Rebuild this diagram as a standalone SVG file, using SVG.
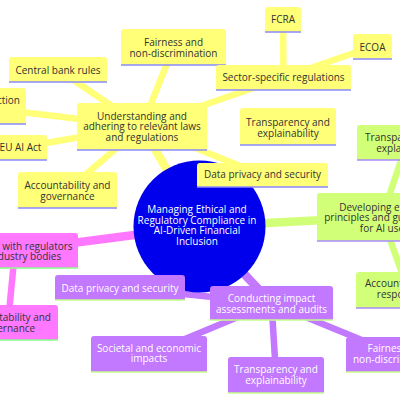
<svg xmlns="http://www.w3.org/2000/svg" width="400" height="400" viewBox="0 0 400 400">
<style>
text{font-family:"Open Sans","Noto Sans","DejaVu Sans",sans-serif;font-size:10px;text-anchor:middle;fill:#333}
.e0{stroke-width:8.5;stroke-linecap:round;fill:none}
.e1{stroke-width:6.5;stroke-linecap:round;fill:none}
.ey{stroke:#ffff78}.eg{stroke:#d2ff78}.ep{stroke:#ff78ff}.eu{stroke:#c278ff}
.nl{stroke-width:1.6}
.yel path{fill:#ffff78}.yel line{stroke:#8a8aff}
.grn path{fill:#d2ff78}.grn line{stroke:#a88aff}
.pnk path{fill:#ff78ff}.pnk line{stroke:#8aff8a}
.pur path{fill:#c278ff}.pur line{stroke:#c4ff8a}.pur text{fill:#fff}
.root circle{fill:#0000ec}.root text{fill:#fff}
</style>
<g id="connectors">
<line class="e0 ey" x1="199.5" y1="226.5" x2="142" y2="126.5"/>
<line class="e0 eg" x1="199.5" y1="226.5" x2="382" y2="217"/>
<line class="e0 ep" x1="199.5" y1="226.5" x2="15" y2="250.5"/>
<line class="e0 eu" x1="199.5" y1="226.5" x2="271.5" y2="303"/>
<line class="e1 ey" x1="142" y1="126.5" x2="58" y2="69.5"/>
<line class="e1 ey" x1="142" y1="126.5" x2="-30" y2="106"/>
<line class="e1 ey" x1="142" y1="126.5" x2="20" y2="147.5"/>
<line class="e1 ey" x1="142" y1="126.5" x2="67.5" y2="190"/>
<line class="e1 ey" x1="142" y1="126.5" x2="173.5" y2="47"/>
<line class="e1 ey" x1="142" y1="126.5" x2="283.5" y2="77.5"/>
<line class="e1 ey" x1="142" y1="126.5" x2="262.5" y2="175"/>
<line class="e1 ey" x1="283.5" y1="77.5" x2="283" y2="19.5"/>
<line class="e1 ey" x1="283.5" y1="77.5" x2="372.5" y2="46.5"/>
<line class="e1 eg" x1="382" y1="217" x2="407" y2="142.5"/>
<line class="e1 eg" x1="382" y1="217" x2="408" y2="290"/>
<line class="e1 ep" x1="15" y1="250.5" x2="8" y2="322.5"/>
<line class="e1 eu" x1="271.5" y1="303" x2="120" y2="287.5"/>
<line class="e1 eu" x1="271.5" y1="303" x2="149" y2="354"/>
<line class="e1 eu" x1="271.5" y1="303" x2="276" y2="375"/>
<line class="e1 eu" x1="271.5" y1="303" x2="397" y2="354.5"/>
</g>
<g id="root" class="root">
<circle cx="199.5" cy="226.5" r="66"/>
<text x="197" y="213">Managing Ethical and</text>
<text x="197" y="223.7">Regulatory Compliance in</text>
<text x="197" y="234.4">AI-Driven Financial</text>
<text x="197" y="245.1">Inclusion</text>
</g>
<g id="n-understanding" class="yel"><path d="M77,150 V106 Q77,103 80,103 H204 Q207,103 207,106 V150 Z"/><line class="nl" x1="77" y1="150" x2="207" y2="150"/>
<text x="142" y="119.7">Understanding and</text><text x="142" y="130.4">adhering to relevant laws</text><text x="142" y="141.1">and regulations</text></g>
<g id="n-centralbank" class="yel"><path d="M9,82 V60 Q9,57 12,57 H104 Q107,57 107,60 V82 Z"/><line class="nl" x1="9" y1="82" x2="107" y2="82"/><text x="58" y="73.5">Central bank rules</text></g>
<g id="n-consumer" class="yel"><path d="M-85,124 V91 Q-85,88 -82,88 H23 Q26,88 26,91 V124 Z"/><line class="nl" x1="-85" y1="124" x2="26" y2="124"/><text x="20" y="103.7" style="text-anchor:end">Consumer protection</text></g>
<g id="n-euai" class="yel"><path d="M-8,160 V138 Q-8,135 -5,135 H44 Q47,135 47,138 V160 Z"/><line class="nl" x1="-8" y1="160" x2="47" y2="160"/><text x="20.5" y="150.7">EU AI Act</text></g>
<g id="n-acc-y" class="yel"><path d="M18,208 V175 Q18,172 21,172 H114 Q117,172 117,175 V208 Z"/><line class="nl" x1="18" y1="208" x2="117" y2="208"/><text x="67.5" y="188.7">Accountability and</text><text x="67.5" y="199.7">governance</text></g>
<g id="n-fair-y" class="yel"><path d="M121,65 V32 Q121,29 124,29 H223 Q226,29 226,32 V65 Z"/><line class="nl" x1="121" y1="65" x2="226" y2="65"/><text x="173.5" y="45.7">Fairness and</text><text x="173.5" y="56.7">non-discrimination</text></g>
<g id="n-fcra" class="yel"><path d="M265,32 V10 Q265,7 268,7 H298 Q301,7 301,10 V32 Z"/><line class="nl" x1="265" y1="32" x2="301" y2="32"/><text x="283" y="23.2">FCRA</text></g>
<g id="n-ecoa" class="yel"><path d="M353,59 V37 Q353,34 356,34 H389 Q392,34 392,37 V59 Z"/><line class="nl" x1="353" y1="59" x2="392" y2="59"/><text x="372.5" y="50.5">ECOA</text></g>
<g id="n-sector" class="yel"><path d="M216,90 V68 Q216,65 219,65 H348 Q351,65 351,68 V90 Z"/><line class="nl" x1="216" y1="90" x2="351" y2="90"/><text x="283.5" y="81.2">Sector-specific regulations</text></g>
<g id="n-trans-y" class="yel"><path d="M240,145 V111 Q240,108 243,108 H333 Q336,108 336,111 V145 Z"/><line class="nl" x1="240" y1="145" x2="336" y2="145"/><text x="288" y="125.7">Transparency and</text><text x="288" y="136.7">explainability</text></g>
<g id="n-priv-y" class="yel"><path d="M197,187 V166 Q197,163 200,163 H325 Q328,163 328,166 V187 Z"/><line class="nl" x1="197" y1="187" x2="328" y2="187"/><text x="262.5" y="177.7">Data privacy and security</text></g>
<g id="n-developing" class="grn"><path d="M317,241 V196 Q317,193 320,193 H444 Q447,193 447,196 V241 Z"/><line class="nl" x1="317" y1="241" x2="447" y2="241"/><text x="382" y="210.6">Developing ethical</text><text x="382" y="221.1">principles and guidelines</text><text x="382" y="231.6">for AI use</text></g>
<g id="n-trans-g" class="grn"><path d="M357,160 V128 Q357,125 360,125 H454 Q457,125 457,128 V160 Z"/><line class="nl" x1="357" y1="160" x2="457" y2="160"/><text x="407" y="140.7">Transparency and</text><text x="407" y="151.7">explainability</text></g>
<g id="n-acc-g" class="grn"><path d="M356,308 V275 Q356,272 359,272 H457 Q460,272 460,275 V308 Z"/><line class="nl" x1="356" y1="308" x2="460" y2="308"/><text x="408" y="286.7">Accountability and</text><text x="408" y="297.7">responsibility</text></g>
<g id="n-engaging" class="pnk"><path d="M-48,268 V236 Q-48,233 -45,233 H75 Q78,233 78,236 V268 Z"/><line class="nl" x1="-48" y1="268" x2="78" y2="268"/><text x="15" y="249.7">Engaging with regulators</text><text x="15" y="260.2">and industry bodies</text></g>
<g id="n-acc-p" class="pnk"><path d="M-42,340 V308 Q-42,305 -39,305 H55 Q58,305 58,308 V340 Z"/><line class="nl" x1="-42" y1="340" x2="58" y2="340"/><text x="8" y="320.7">Accountability and</text><text x="8" y="331.7">governance</text></g>
<g id="n-conducting" class="pur"><path d="M210,320 V289 Q210,286 213,286 H330 Q333,286 333,289 V320 Z"/><line class="nl" x1="210" y1="320" x2="333" y2="320"/><text x="271.5" y="301.7">Conducting impact</text><text x="271.5" y="312.7">assessments and audits</text></g>
<g id="n-priv-u" class="pur"><path d="M55,300 V278 Q55,275 58,275 H182 Q185,275 185,278 V300 Z"/><line class="nl" x1="55" y1="300" x2="185" y2="300"/><text x="120" y="291.5">Data privacy and security</text></g>
<g id="n-societal" class="pur"><path d="M91,372 V339 Q91,336 94,336 H204 Q207,336 207,339 V372 Z"/><line class="nl" x1="91" y1="372" x2="207" y2="372"/><text x="149" y="351.7">Societal and economic</text><text x="149" y="362.2">impacts</text></g>
<g id="n-trans-u" class="pur"><path d="M228,393 V360 Q228,357 231,357 H321 Q324,357 324,360 V393 Z"/><line class="nl" x1="228" y1="393" x2="324" y2="393"/><text x="276" y="373.2">Transparency and</text><text x="276" y="384.2">explainability</text></g>
<g id="n-fair-u" class="pur"><path d="M346,372 V340 Q346,337 349,337 H445 Q448,337 448,340 V372 Z"/><line class="nl" x1="346" y1="372" x2="448" y2="372"/><text x="397" y="351.7">Fairness and</text><text x="397" y="362.7">non-discrimination</text></g>
</svg>
